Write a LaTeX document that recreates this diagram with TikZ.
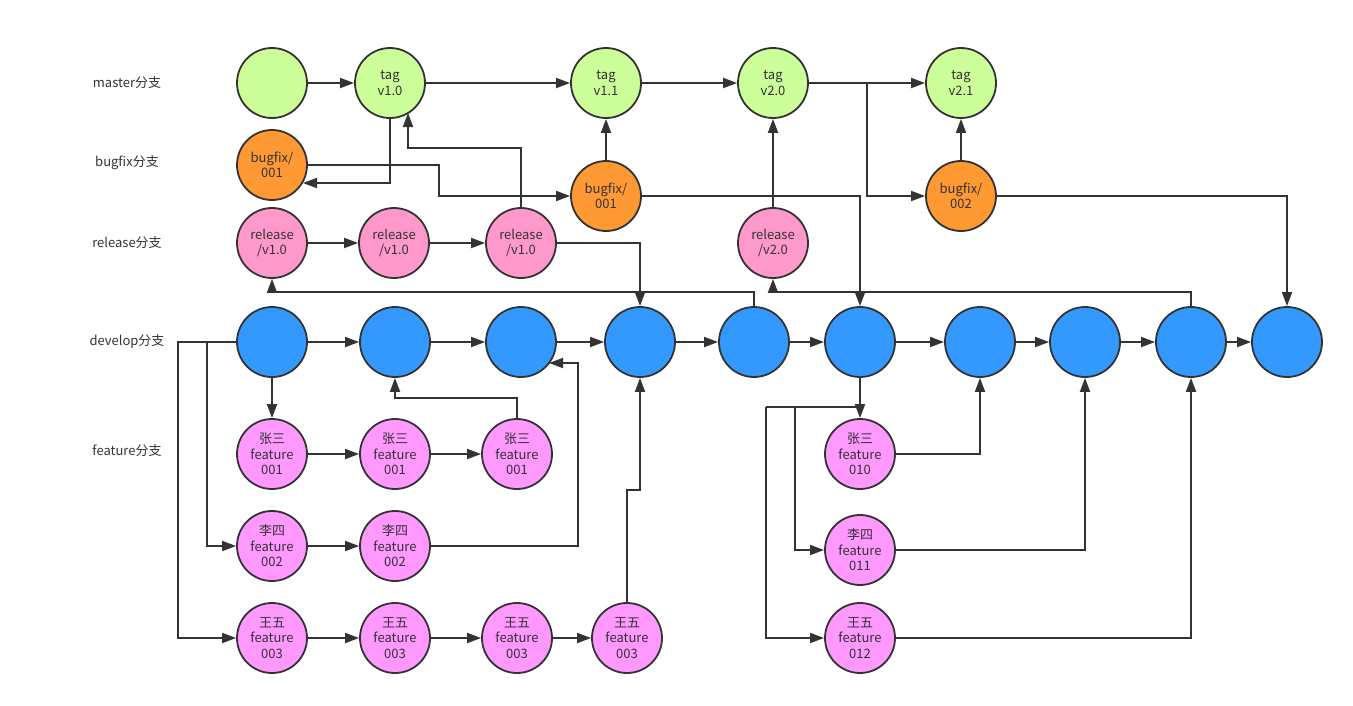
\documentclass[tikz,border=0pt]{standalone}
\usepackage{fontspec}
\setmainfont{Noto Sans CJK SC}
\usetikzlibrary{arrows.meta}
\definecolor{linec}{HTML}{333333}
\definecolor{mastc}{HTML}{CCFF99}
\definecolor{bugc}{HTML}{FF9933}
\definecolor{relc}{HTML}{FF99CC}
\definecolor{devc}{HTML}{3399FF}
\definecolor{featc}{HTML}{FF99FF}
\begin{document}
\begin{tikzpicture}[x=1pt,y=-1pt,
  every node/.style={font=\fontsize{13}{15.5}\selectfont,text=linec},
  commit/.style={circle,draw=linec,line width=1.8pt,minimum size=70pt,inner sep=0pt,align=center},
  mnode/.style={commit,fill=mastc},
  bnode/.style={commit,fill=bugc},
  rnode/.style={commit,fill=relc},
  dnode/.style={commit,fill=devc},
  fnode/.style={commit,fill=featc},
  conn/.style={draw=linec,line width=1.8pt,-{Triangle[length=14pt,width=10pt]}},
  plainline/.style={draw=linec,line width=1.8pt},
  lbl/.style={anchor=center}]
\useasboundingbox (0,0) rectangle (1353,705);
% labels
\node[lbl] (Lm) at (127,83) {master分支};
\node[lbl] (Lb) at (127,163) {bugfix分支};
\node[lbl] (Lr) at (127,243) {release分支};
\node[lbl] (Ld) at (127,342) {develop分支};
\node[lbl] (Lf) at (127,451) {feature分支};
% master
\node[mnode] (M0) at (272,83) {};
\node[mnode] (M1) at (390,83) {tag\\v1.0};
\node[mnode] (M2) at (606,83) {tag\\v1.1};
\node[mnode] (M3) at (773,83) {tag\\v2.0};
\node[mnode] (M4) at (961,83) {tag\\v2.1};
% bugfix
\node[bnode] (B1) at (272,165) {bugfix/\\001};
\node[bnode] (B2) at (606,196) {bugfix/\\001};
\node[bnode] (B3) at (961,196) {bugfix/\\002};
% release
\node[rnode] (R1) at (272,243) {release\\/v1.0};
\node[rnode] (R2) at (394,243) {release\\/v1.0};
\node[rnode] (R3) at (521,243) {release\\/v1.0};
\node[rnode] (R4) at (773,243) {release\\/v2.0};
% develop
\node[dnode] (D1) at (272,342) {};
\node[dnode] (D2) at (395,342) {};
\node[dnode] (D3) at (521,342) {};
\node[dnode] (D4) at (640,342) {};
\node[dnode] (D5) at (754,342) {};
\node[dnode] (D6) at (860,342) {};
\node[dnode] (D7) at (980,342) {};
\node[dnode] (D8) at (1085,342) {};
\node[dnode] (D9) at (1191,342) {};
\node[dnode] (D10) at (1287,342) {};
% features
\node[fnode] (F1a) at (272,454) {张三\\feature\\001};
\node[fnode] (F1b) at (395,454) {张三\\feature\\001};
\node[fnode] (F1c) at (517,454) {张三\\feature\\001};
\node[fnode] (F2a) at (272,546) {李四\\feature\\002};
\node[fnode] (F2b) at (395,546) {李四\\feature\\002};
\node[fnode] (F3a) at (272,638) {王五\\feature\\003};
\node[fnode] (F3b) at (395,638) {王五\\feature\\003};
\node[fnode] (F3c) at (517,638) {王五\\feature\\003};
\node[fnode] (F3d) at (627,638) {王五\\feature\\003};
\node[fnode] (F10) at (860,454) {张三\\feature\\010};
\node[fnode] (F11) at (860,550) {李四\\feature\\011};
\node[fnode] (F12) at (860,638) {王五\\feature\\012};
% junction coordinates
\coordinate (jM3) at (867,83);
\coordinate (jM1) at (390,183);
\coordinate (tB1) at (303,183);
\coordinate (jB1) at (439,165);
\coordinate (jR3) at (521,148);
\coordinate (tM1) at (408,113);
\coordinate (jD5) at (754,292);
\coordinate (jD9) at (1191,292);
\coordinate (jD1a) at (207,342);
\coordinate (jD1b) at (178,342);
\coordinate (jF1c) at (517,398);
\coordinate (jF2b) at (578,546);
\coordinate (tD3) at (549,363);
\coordinate (jF3d) at (627,490);
\coordinate (jD6) at (860,407);
\coordinate (jD6a) at (795,407);
\coordinate (jD6b) at (766,407);
% master connectors
\draw[conn] (M0) -- (M1);
\draw[conn] (M1) -- (M2);
\draw[conn] (M2) -- (M3);
\draw[conn] (M3) -- (M4);
\draw[conn] (M3.east) -- (jM3) |- (B3.west);
\draw[conn] (B3) -- (M4);
\draw[conn] (B3.east) -| (D10.north);
% bugfix 001
\draw[conn] (M1.south) -- (jM1) -- (tB1);
\draw[conn] (B1.east) -- (jB1) |- (B2.west);
\draw[conn] (B2) -- (M2);
\draw[conn] (B2.east) -| (D6.north);
% release
\draw[conn] (R1) -- (R2);
\draw[conn] (R2) -- (R3);
\draw[conn] (R3.north) -- (jR3) -| (tM1);
\draw[conn] (R3.east) -| (D4.north);
\draw[conn] (R4) -- (M3);
\draw[conn] (D5.north) -- (jD5) -| (R1.south);
\draw[conn] (D9.north) -- (jD9) -| (R4.south);
% develop
\draw[conn] (D1) -- (D2);
\draw[conn] (D2) -- (D3);
\draw[conn] (D3) -- (D4);
\draw[conn] (D4) -- (D5);
\draw[conn] (D5) -- (D6);
\draw[conn] (D6) -- (D7);
\draw[conn] (D7) -- (D8);
\draw[conn] (D8) -- (D9);
\draw[conn] (D9) -- (D10);
% feature branch-offs
\draw[conn] (D1) -- (F1a);
\draw[conn] (D1.west) -- (jD1a) |- (F2a.west);
\draw[conn] (jD1a) -- (jD1b) |- (F3a.west);
\draw[conn] (F1a) -- (F1b);
\draw[conn] (F1b) -- (F1c);
\draw[conn] (F1c.north) -- (jF1c) -| (D2.south);
\draw[conn] (F2a) -- (F2b);
\draw[conn] (F2b.east) -- (jF2b) |- (tD3);
\draw[conn] (F3a) -- (F3b);
\draw[conn] (F3b) -- (F3c);
\draw[conn] (F3c) -- (F3d);
\draw[conn] (F3d.north) -- (jF3d) -| (D4.south);
% second feature group
\draw[conn] (D6) -- (F10);
\draw[plainline] (jD6) -- (jD6b);
\draw[conn] (jD6a) |- (F11.west);
\draw[conn] (jD6b) |- (F12.west);
\draw[conn] (F10.east) -| (D7.south);
\draw[conn] (F11.east) -| (D8.south);
\draw[conn] (F12.east) -| (D9.south);
\end{tikzpicture}
\end{document}
